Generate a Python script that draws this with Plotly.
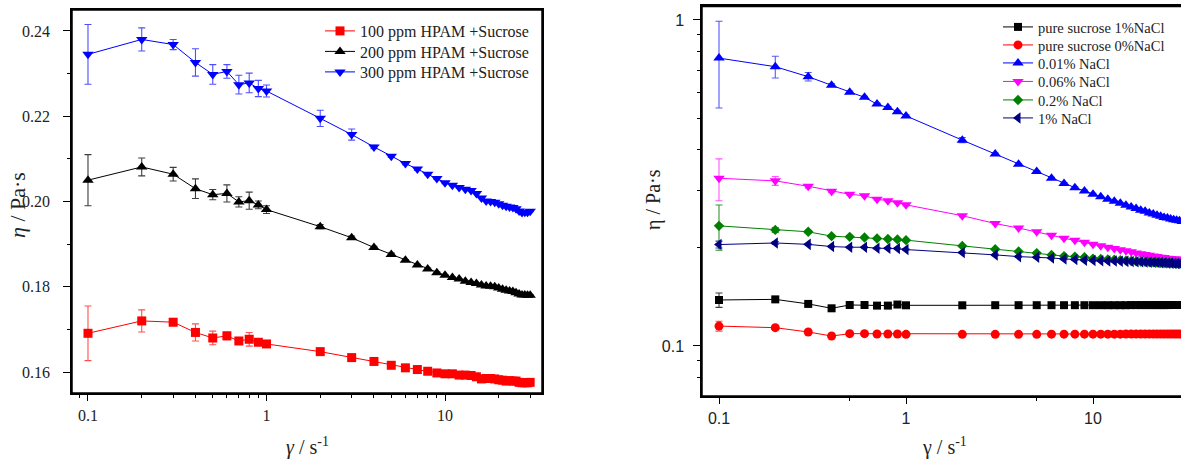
import plotly.graph_objects as go

# ---------------- data ----------------
shear = [0.1, 0.2, 0.3, 0.4, 0.5, 0.6, 0.7, 0.8, 0.9, 1, 2, 3, 4, 5, 6, 7, 8, 9, 10,
         11, 12, 13, 14, 15, 16, 17, 18, 19, 20, 21, 22, 23, 24, 25, 26, 27, 28, 29, 30]

# left panel: HPAM + sucrose
hpam100 = [0.1691, 0.1720, 0.1717, 0.1693, 0.1680, 0.1685, 0.1673, 0.1677, 0.1670, 0.1666,
           0.1648, 0.1634, 0.1625, 0.1616, 0.1610, 0.1606, 0.1602, 0.1598, 0.1596,
           0.1596, 0.1593, 0.1593, 0.1592, 0.1589, 0.1584, 0.1585, 0.1585, 0.1584, 0.1582,
           0.1581, 0.1579, 0.1580, 0.1579, 0.1579, 0.1576, 0.1575, 0.1575, 0.1575, 0.1576]
hpam100_err = [0.0064, 0.0026, 0.0008, 0.0020, 0.0016, 0.0009, 0.0005, 0.0016, 0.0006, 0.0005,
               0.0003, 0.0003, 0.0002, 0.0002, 0.0002, 0.0002, 0.0002, 0.0002, 0.0002,
               0.0001, 0.0001, 0.0001, 0.0001, 0.0001, 0.0001, 0.0001, 0.0001, 0.0001, 0.0001,
               0.0001, 0.0001, 0.0001, 0.0001, 0.0001, 0.0001, 0.0001, 0.0001, 0.0001, 0.0001]

hpam200 = [0.2050, 0.2081, 0.2064, 0.2030, 0.2016, 0.2019, 0.1999, 0.2002, 0.1992, 0.1981,
           0.1941, 0.1915, 0.1892, 0.1876, 0.1862, 0.1851, 0.1842, 0.1833, 0.1827,
           0.1822, 0.1818, 0.1813, 0.1810, 0.1808, 0.1804, 0.1802, 0.1801, 0.1800, 0.1797,
           0.1794, 0.1792, 0.1790, 0.1789, 0.1786, 0.1783, 0.1781, 0.1781, 0.1780, 0.1780]
hpam200_err = [0.0060, 0.0021, 0.0016, 0.0023, 0.0012, 0.0020, 0.0012, 0.0020, 0.0009, 0.0009,
               0.0005, 0.0004, 0.0003, 0.0003, 0.0002, 0.0002, 0.0002, 0.0002, 0.0002,
               0.0001, 0.0001, 0.0001, 0.0001, 0.0001, 0.0001, 0.0001, 0.0001, 0.0001, 0.0001,
               0.0001, 0.0001, 0.0001, 0.0001, 0.0001, 0.0001, 0.0001, 0.0001, 0.0001, 0.0001]

hpam300 = [0.2345, 0.2380, 0.2368, 0.2326, 0.2298, 0.2305, 0.2274, 0.2278, 0.2265, 0.2259,
           0.2195, 0.2157, 0.2128, 0.2106, 0.2089, 0.2076, 0.2064, 0.2054, 0.2044,
           0.2038, 0.2033, 0.2029, 0.2026, 0.2019, 0.2008, 0.2001, 0.2000, 0.1998, 0.1995,
           0.1991, 0.1989, 0.1987, 0.1986, 0.1983, 0.1978, 0.1974, 0.1975, 0.1975, 0.1977]
hpam300_err = [0.0070, 0.0027, 0.0012, 0.0032, 0.0023, 0.0016, 0.0022, 0.0023, 0.0019, 0.0014,
               0.0019, 0.0013, 0.0004, 0.0003, 0.0003, 0.0003, 0.0002, 0.0002, 0.0002,
               0.0001, 0.0001, 0.0001, 0.0001, 0.0001, 0.0001, 0.0001, 0.0001, 0.0001, 0.0001,
               0.0001, 0.0001, 0.0001, 0.0001, 0.0001, 0.0001, 0.0001, 0.0001, 0.0001, 0.0001]

# right panel: NaCl series
suc1 = [0.1384, 0.1390, 0.1346, 0.1305, 0.1336, 0.1336, 0.1330, 0.1330, 0.1340, 0.1333,
        0.1333, 0.1334, 0.1334, 0.1334, 0.1334, 0.1334, 0.1334, 0.1334, 0.1334,
        0.1334, 0.1334, 0.1334, 0.1334, 0.1334, 0.1335, 0.1335, 0.1335, 0.1335, 0.1335,
        0.1335, 0.1335, 0.1335, 0.1335, 0.1335, 0.1336, 0.1336, 0.1336, 0.1336, 0.1336]
suc1_err = [0.0070, 0.0015, 0.0010, 0.0008, 0.0008, 0.0008, 0.0005, 0.0005, 0.0005, 0.0005,
            0.0003, 0.0003, 0.0003, 0.0003, 0.0003, 0.0003, 0.0003, 0.0003, 0.0003,
            0.0002, 0.0002, 0.0002, 0.0002, 0.0002, 0.0002, 0.0002, 0.0002, 0.0002, 0.0002,
            0.0002, 0.0002, 0.0002, 0.0002, 0.0002, 0.0002, 0.0002, 0.0002, 0.0002, 0.0002]

suc0 = [0.1151, 0.1138, 0.1104, 0.1073, 0.1091, 0.1091, 0.1088, 0.1088, 0.1088, 0.1086,
        0.1086, 0.1086, 0.1086, 0.1086, 0.1087, 0.1087, 0.1087, 0.1087, 0.1087,
        0.1087, 0.1087, 0.1087, 0.1087, 0.1088, 0.1088, 0.1088, 0.1088, 0.1088, 0.1088,
        0.1088, 0.1088, 0.1088, 0.1088, 0.1088, 0.1088, 0.1088, 0.1088, 0.1088, 0.1088]
suc0_err = [0.0040, 0.0010, 0.0008, 0.0006, 0.0005, 0.0005, 0.0004, 0.0004, 0.0004, 0.0004,
            0.0003, 0.0003, 0.0003, 0.0003, 0.0003, 0.0003, 0.0003, 0.0003, 0.0003,
            0.0002, 0.0002, 0.0002, 0.0002, 0.0002, 0.0002, 0.0002, 0.0002, 0.0002, 0.0002,
            0.0002, 0.0002, 0.0002, 0.0002, 0.0002, 0.0002, 0.0002, 0.0002, 0.0002, 0.0002]

nacl001 = [0.764, 0.719, 0.670, 0.631, 0.600, 0.579, 0.552, 0.539, 0.523, 0.508,
           0.428, 0.388, 0.361, 0.343, 0.327, 0.315, 0.306, 0.299, 0.292,
           0.287, 0.282, 0.278, 0.274, 0.270, 0.267, 0.264, 0.261, 0.259, 0.256,
           0.254, 0.252, 0.250, 0.248, 0.247, 0.245, 0.244, 0.243, 0.242, 0.241]
nacl001_err = [0.227, 0.055, 0.020, 0.006, 0.005, 0.004, 0.004, 0.004, 0.004, 0.004,
               0.008, 0.003, 0.002, 0.002, 0.002, 0.002, 0.002, 0.002, 0.002,
               0.001, 0.001, 0.001, 0.001, 0.001, 0.001, 0.001, 0.001, 0.001, 0.001,
               0.001, 0.001, 0.001, 0.001, 0.001, 0.001, 0.001, 0.001, 0.001, 0.001]

nacl006 = [0.327, 0.321, 0.309, 0.2985, 0.292, 0.289, 0.282, 0.279, 0.275, 0.271,
           0.251, 0.2375, 0.230, 0.224, 0.2187, 0.214, 0.211, 0.208, 0.205,
           0.203, 0.201, 0.199, 0.1975, 0.196, 0.1945, 0.193, 0.192, 0.1908, 0.1897,
           0.1888, 0.188, 0.1873, 0.1867, 0.186, 0.1855, 0.185, 0.1847, 0.1845, 0.1843]
nacl006_err = [0.048, 0.010, 0.004, 0.003, 0.002, 0.002, 0.002, 0.002, 0.002, 0.002,
               0.002, 0.001, 0.001, 0.001, 0.001, 0.001, 0.001, 0.001, 0.001,
               0.001, 0.001, 0.001, 0.001, 0.001, 0.001, 0.001, 0.001, 0.001, 0.001,
               0.001, 0.001, 0.001, 0.001, 0.001, 0.001, 0.001, 0.001, 0.001, 0.001]

nacl02 = [0.2336, 0.227, 0.224, 0.2172, 0.2162, 0.2152, 0.2137, 0.2128, 0.2123, 0.2112,
          0.2028, 0.198, 0.1949, 0.1927, 0.1903, 0.1887, 0.188, 0.1872, 0.1854,
          0.1848, 0.1843, 0.1838, 0.1833, 0.1828, 0.1823, 0.1818, 0.1815, 0.1812, 0.1808,
          0.1805, 0.1802, 0.1799, 0.1797, 0.1795, 0.1793, 0.1791, 0.1789, 0.1787, 0.1785]
nacl02_err = [0.037, 0.004, 0.002, 0.002, 0.001, 0.001, 0.001, 0.001, 0.001, 0.001,
              0.001, 0.001, 0.001, 0.001, 0.001, 0.001, 0.001, 0.001, 0.001,
              0.001, 0.001, 0.001, 0.001, 0.001, 0.001, 0.001, 0.001, 0.001, 0.001,
              0.001, 0.001, 0.001, 0.001, 0.001, 0.001, 0.001, 0.001, 0.001, 0.001]

nacl1 = [0.2047, 0.207, 0.205, 0.2018, 0.2009, 0.2009, 0.1995, 0.1995, 0.199, 0.1976,
         0.1935, 0.1903, 0.188, 0.1872, 0.1862, 0.185, 0.1841, 0.1833, 0.1828,
         0.1826, 0.1824, 0.1822, 0.182, 0.1818, 0.1816, 0.1814, 0.1812, 0.181, 0.1808,
         0.1806, 0.1804, 0.1802, 0.18, 0.1798, 0.1796, 0.1794, 0.1792, 0.179, 0.1788]
nacl1_err = [0.005, 0.002, 0.001, 0.001, 0.001, 0.001, 0.001, 0.001, 0.001, 0.001,
             0.001, 0.001, 0.001, 0.001, 0.001, 0.001, 0.001, 0.001, 0.001,
             0.001, 0.001, 0.001, 0.001, 0.001, 0.001, 0.001, 0.001, 0.001, 0.001,
             0.001, 0.001, 0.001, 0.001, 0.001, 0.001, 0.001, 0.001, 0.001, 0.001]

left_names = ["100 ppm HPAM +Sucrose", "200 ppm HPAM +Sucrose", "300 ppm HPAM +Sucrose"]
right_names = ["pure sucrose 1%NaCl", "pure sucrose 0%NaCl", "0.01% NaCl",
               "0.06% NaCl", "0.2% NaCl", "1% NaCl"]

# ---------------- styles ----------------
SERIF = "Liberation Serif, Times New Roman, serif"
SANS = "Liberation Sans, Arial, sans-serif"
W, H = 1181, 461


def px_x(p):
    return p / W


def px_y(p):
    return 1 - p / H


fig = go.Figure()
legend_layouts = {}

# legend row positions (pixels): left panel and right panel
left_leg_rows = [31, 51.5, 72]
right_leg_rows = [27, 45, 63, 81.5, 100, 118]

left_series = [
    (hpam100, hpam100_err, "#ff0000", "square", 9, "rgba(255,60,60,0.9)"),
    (hpam200, hpam200_err, "#000000", "triangle-up", 10, "rgba(40,40,40,0.9)"),
    (hpam300, hpam300_err, "#0000ff", "triangle-down", 10, "rgba(60,60,255,0.9)"),
]
k = 0
for i, (name, (vals, errs, col, sym, sz, ecol)) in enumerate(zip(left_names, left_series)):
    k += 1
    lname = "legend" if k == 1 else f"legend{k}"
    fig.add_trace(go.Scatter(
        x=shear, y=vals, name=name, mode="lines+markers",
        line=dict(color=col, width=1),
        marker=dict(symbol=sym, size=sz, color=col, line=dict(width=0)),
        error_y=dict(type="data", array=errs, visible=True, color=ecol,
                     thickness=1.1, width=3.5),
        xaxis="x", yaxis="y", legend=lname,
    ))
    legend_layouts[lname] = dict(
        x=px_x(320), y=px_y(left_leg_rows[i]), xanchor="left", yanchor="middle",
        bgcolor="rgba(0,0,0,0)", borderwidth=0,
        font=dict(family=SERIF, size=16, color="#222"), itemsizing="trace")

right_series = [
    (suc1, suc1_err, "#000000", "square", 8, "rgba(40,40,40,0.9)"),
    (suc0, suc0_err, "#ff0000", "circle", 9, "rgba(255,60,60,0.9)"),
    (nacl001, nacl001_err, "#0000ff", "triangle-up", 10, "rgba(70,70,255,0.9)"),
    (nacl006, nacl006_err, "#ff00ff", "triangle-down", 10, "rgba(255,70,255,0.9)"),
    (nacl02, nacl02_err, "#008000", "diamond", 8, "rgba(30,140,30,0.9)"),
    (nacl1, nacl1_err, "#000080", "triangle-left", 10, "rgba(40,40,150,0.9)"),
]
for i, (name, (vals, errs, col, sym, sz, ecol)) in enumerate(zip(right_names, right_series)):
    k += 1
    lname = f"legend{k}"
    fig.add_trace(go.Scatter(
        x=shear, y=vals, name=name, mode="lines+markers",
        line=dict(color=col, width=1),
        marker=dict(symbol=sym, size=sz, color=col, line=dict(width=0)),
        error_y=dict(type="data", array=errs, visible=True, color=ecol,
                     thickness=1.1, width=3.5),
        xaxis="x2", yaxis="y2", legend=lname,
    ))
    legend_layouts[lname] = dict(
        x=px_x(998), y=px_y(right_leg_rows[i]), xanchor="left", yanchor="middle",
        bgcolor="rgba(0,0,0,0)", borderwidth=0,
        font=dict(family=SERIF, size=14.5, color="#222"), itemsizing="trace")

axis_common = dict(showgrid=False, zeroline=False, showline=True, linecolor="#000000",
                   linewidth=1.5, ticks="outside", tickcolor="#000000", tickwidth=1.2)

# plot frames in pixel space of the page
L1, R1, T1, B1 = 72, 542, 10, 393
L2, R2, T2, B2 = 702, W, 6, 396
frame = dict(color="#000000", width=1.5)

fig.update_layout(
    width=W, height=H, autosize=False,
    margin=dict(l=0, r=0, t=0, b=0),
    paper_bgcolor="white", plot_bgcolor="white",
    showlegend=True,
    xaxis=dict(**axis_common, type="log", domain=[px_x(L1), px_x(R1)],
               range=[-1.0896, 1.5434], mirror=True, anchor="y",
               tickvals=[0.1, 1, 10], ticktext=["0.1", "1", "10"], ticklen=6,
               ticklabelstandoff=1,
               tickfont=dict(family=SERIF, size=16, color="#222"),
               minor=dict(ticks="outside", ticklen=3, tickcolor="#000000", tickwidth=1,
                          tickvals=[0.09, 0.2, 0.3, 0.4, 0.5, 0.6, 0.7, 0.8, 0.9,
                                    2, 3, 4, 5, 6, 7, 8, 9, 20, 30])),
    yaxis=dict(**axis_common, domain=[px_y(B1), px_y(T1)], range=[0.1551, 0.2449],
               mirror=True, anchor="x",
               tickvals=[0.16, 0.18, 0.20, 0.22, 0.24],
               ticktext=["0.16", "0.18", "0.20", "0.22", "0.24"], ticklen=7,
               ticklabelstandoff=10,
               tickfont=dict(family=SERIF, size=16, color="#222"),
               minor=dict(ticks="outside", ticklen=3.5, tickcolor="#000000", tickwidth=1,
                          tickvals=[0.17, 0.19, 0.21, 0.23])),
    xaxis2=dict(**axis_common, type="log", domain=[px_x(L2), 1.0],
                range=[-1.0909, 1.4706], mirror=True, anchor="y2",
                tickvals=[0.1, 1, 10], ticktext=["0.1", "1", "10"], ticklen=6,
                ticklabelstandoff=1,
                tickfont=dict(family=SANS, size=16, color="#222"),
                minor=dict(ticks="outside", ticklen=3, tickcolor="#000000", tickwidth=1,
                           tickvals=[0.5, 5])),
    yaxis2=dict(**axis_common, type="log", domain=[px_y(B2), px_y(T2)],
                range=[-1.1534, 0.0429], mirror=False, anchor="x2",
                tickvals=[0.1, 1], ticktext=["0.1", "1"], ticklen=7,
                ticklabelstandoff=6,
                tickfont=dict(family=SANS, size=16, color="#222"),
                minor=dict(ticks="outside", ticklen=3.5, tickcolor="#000000", tickwidth=1,
                           tickvals=[0.08, 0.09, 0.2, 0.3, 0.4, 0.5, 0.6, 0.7, 0.8, 0.9])),
    shapes=[
        dict(type="rect", xref="paper", yref="paper",
             x0=px_x(L1), x1=px_x(R1), y0=px_y(B1), y1=px_y(T1),
             line=frame, fillcolor="rgba(0,0,0,0)", layer="above"),
        # right panel frame: its right edge lies beyond the page (cut off as in the source)
        dict(type="rect", xref="paper", yref="paper",
             x0=px_x(L2), x1=px_x(W + 20), y0=px_y(B2), y1=px_y(T2 + 0.5),
             line=frame, fillcolor="rgba(0,0,0,0)", layer="above"),
    ],
    annotations=[
        dict(text="<i>η</i> / Pa·s", xref="paper", yref="paper",
             x=px_x(17), y=px_y(205), xanchor="center", yanchor="middle",
             textangle=-90, showarrow=False,
             font=dict(family=SERIF, size=22, color="#222")),
        dict(text="<i>γ</i> / s<sup>-1</sup>", xref="paper", yref="paper",
             x=px_x(307), y=px_y(446), xanchor="center", yanchor="middle",
             showarrow=False,
             font=dict(family=SERIF, size=20, color="#222")),
        dict(text="η / Pa·s", xref="paper", yref="paper",
             x=px_x(653), y=px_y(200), xanchor="center", yanchor="middle",
             textangle=-90, showarrow=False,
             font=dict(family=SERIF, size=20, color="#222")),
        dict(text="γ / s<sup>-1</sup>", xref="paper", yref="paper",
             x=px_x(944), y=px_y(446), xanchor="center", yanchor="middle",
             showarrow=False,
             font=dict(family=SERIF, size=20, color="#222")),
    ],
)
fig.update_layout(**legend_layouts)

fig.write_html("out.html", config={"displayModeBar": False},
               post_script="document.body.style.margin='0';document.body.style.overflow='hidden';")
